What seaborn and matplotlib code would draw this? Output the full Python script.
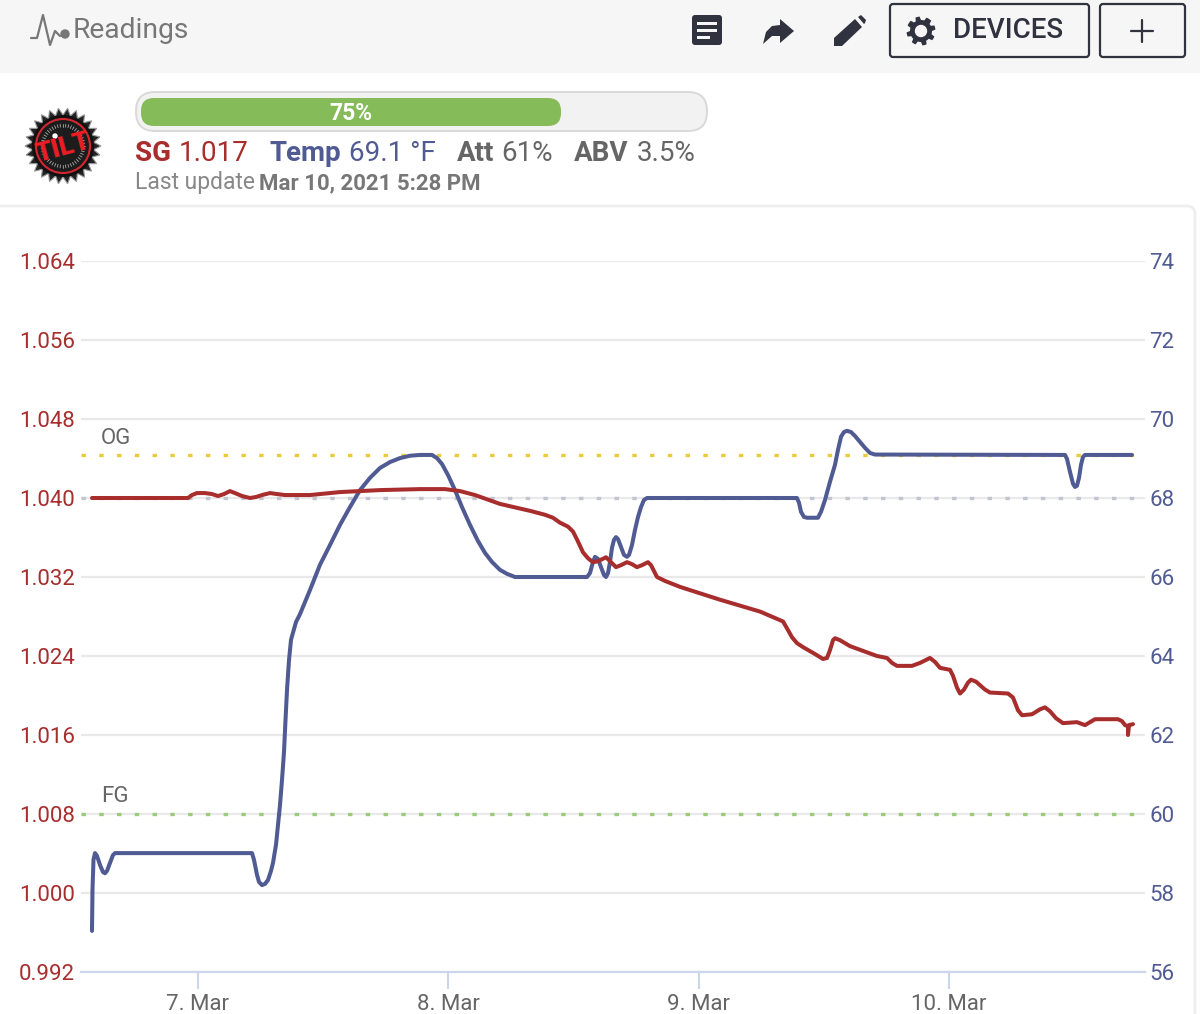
import numpy as np
import pandas as pd
import matplotlib.pyplot as plt
import seaborn as sns
from matplotlib.patches import Circle, FancyBboxPatch, Polygon, Rectangle

# readings, x is day of March
temp_days = [6.5765, 6.5785, 6.5825, 6.5885, 6.5965, 6.6085, 6.6205, 6.6285, 6.6365, 6.6484, 6.6604, 6.6684,
             7.2157, 7.2237, 7.2357, 7.2437, 7.2557, 7.2677, 7.2797, 7.2916, 7.2996, 7.3116, 7.3196, 7.3276,
             7.3356, 7.3436, 7.3496, 7.3556, 7.3636, 7.3716, 7.3755, 7.3915, 7.4075, 7.4474, 7.4874, 7.5273,
             7.5673, 7.6072, 7.6472, 7.6871, 7.7271, 7.7670, 7.8070, 7.8469, 7.8869, 7.9348, 7.9548, 7.9748,
             7.9988, 8.0267, 8.0547, 8.0866, 8.1186, 8.1466, 8.1746, 8.2065, 8.2345, 8.2664,
             8.5541, 8.5660, 8.5780, 8.5860, 8.5980, 8.6100, 8.6220, 8.6300, 8.6380, 8.6459, 8.6539, 8.6619,
             8.6699, 8.6779, 8.6899, 8.7019, 8.7139, 8.7219, 8.7338, 8.7458, 8.7578, 8.7698, 8.7818, 8.7938,
             9.3930, 9.4010, 9.4090, 9.4210, 9.4330, 9.4769, 9.4889, 9.5049, 9.5248, 9.5448, 9.5568, 9.5688,
             9.5808, 9.5928, 9.6087, 9.6247, 9.6447, 9.6647, 9.6847, 9.7046,
             10.4637, 10.4717, 10.4837, 10.4957, 10.5036, 10.5116, 10.5196, 10.5276, 10.5356, 10.5436, 10.7313]
temp_values = [57.04, 58.08, 58.84, 59.01, 58.94, 58.71, 58.53, 58.5, 58.56, 58.76, 58.96, 59.01,
               59.01, 58.84, 58.46, 58.28, 58.2, 58.23, 58.33, 58.56, 58.76, 59.22, 59.72, 60.23,
               60.86, 61.57, 62.38, 63.14, 63.90, 64.41, 64.5, 64.86, 65.06, 65.67, 66.31, 66.81,
               67.32, 67.77, 68.20, 68.51, 68.76, 68.91, 69.01, 69.07, 69.09, 69.09, 69.01, 68.86,
               68.58, 68.20, 67.77, 67.32, 66.91, 66.61, 66.38, 66.18, 66.08, 66.0,
               66.0, 66.10, 66.38, 66.51, 66.46, 66.25, 66.05, 66.0, 66.10, 66.38, 66.74, 66.94,
               67.01, 66.96, 66.76, 66.56, 66.51, 66.56, 66.81, 67.19, 67.52, 67.77, 67.95, 68.0,
               68.0, 67.88, 67.65, 67.52, 67.5, 67.5, 67.65, 67.95, 68.41, 68.84, 69.22, 69.55,
               69.67, 69.70, 69.67, 69.57, 69.42, 69.27, 69.14, 69.1,
               69.09, 68.99, 68.66, 68.36, 68.28, 68.31, 68.51, 68.84, 69.04, 69.09, 69.09]

sg_days = [6.5765, 6.9600, 6.9760, 6.9960, 7.0280, 7.0559, 7.0799, 7.1039, 7.1278, 7.1478,
           7.1758, 7.2077, 7.2317, 7.2557, 7.2876, 7.3156, 7.3476, 7.4474, 7.5673, 7.7271,
           7.8869, 7.9868, 8.0467, 8.1066, 8.2065, 8.3263, 8.3863, 8.4182, 8.4462, 8.4782,
           8.4981, 8.5141, 8.5381, 8.5581, 8.5780, 8.5980, 8.6300, 8.6459, 8.6699, 8.6899,
           8.7139, 8.7338, 8.7538, 8.7738, 8.7978, 8.8097, 8.8217, 8.8337, 8.8657, 8.9256,
           9.0854, 9.2452, 9.3371, 9.3531, 9.3730, 9.3930, 9.4170, 9.4649, 9.4969, 9.5129,
           9.5248, 9.5369, 9.5448, 9.5648, 9.6047, 9.7126, 9.7526, 9.7725, 9.7925, 9.8524,
           9.8844, 9.9243, 9.9443, 9.9643, 10.0042, 10.0162, 10.0322, 10.0442, 10.0602, 10.0761,
           10.0881, 10.1081, 10.1441, 10.1640, 10.2360, 10.2559, 10.2759, 10.2919, 10.3318, 10.3638,
           10.3838, 10.4037, 10.4277, 10.4557, 10.5116, 10.5436, 10.5635, 10.5835, 10.6754, 10.6914,
           10.7034, 10.7154, 10.7154, 10.7194, 10.7354]
sg_values = [1.0400, 1.0400, 1.0403, 1.0405, 1.0405, 1.0404, 1.0402, 1.0404, 1.0407, 1.0405,
             1.0402, 1.0400, 1.0401, 1.0403, 1.0405, 1.0404, 1.0403, 1.0403, 1.0406, 1.0408,
             1.0409, 1.0409, 1.0407, 1.0403, 1.0394, 1.0387, 1.0383, 1.0380, 1.0375, 1.0371,
             1.0366, 1.0358, 1.0345, 1.0339, 1.0335, 1.0336, 1.0340, 1.0336, 1.0330, 1.0332,
             1.0335, 1.0333, 1.0330, 1.0332, 1.0335, 1.0332, 1.0326, 1.0320, 1.0316, 1.0310,
             1.0297, 1.0285, 1.0275, 1.0268, 1.0259, 1.0253, 1.0249, 1.0242, 1.0237, 1.0238,
             1.0246, 1.0256, 1.0258, 1.0256, 1.0250, 1.0240, 1.0238, 1.0233, 1.0230, 1.0230,
             1.0233, 1.0238, 1.0234, 1.0228, 1.0226, 1.0220, 1.0208, 1.0202, 1.0206, 1.0213,
             1.0216, 1.0214, 1.0206, 1.0203, 1.0202, 1.0198, 1.0185, 1.0180, 1.0181, 1.0186,
             1.0188, 1.0184, 1.0177, 1.0172, 1.0173, 1.0170, 1.0173, 1.0176, 1.0176, 1.0174,
             1.0170, 1.0169, 1.0160, 1.0170, 1.0171]

og_value = 1.0444
fg_value = 1.008
target_temp = 68

temp_ticks = [56, 58, 60, 62, 64, 66, 68, 70, 72, 74]
sg_ticks = [0.992, 1.000, 1.008, 1.016, 1.024, 1.032, 1.040, 1.048, 1.056, 1.064]
day_ticks = [7, 8, 9, 10]
day_labels = ['7. Mar', '8. Mar', '9. Mar', '10. Mar']

RED = '#a82d2d'
BLUE = '#505b93'
GREY = '#666666'
DARK = '#30323f'
HEADER = '#f6f6f6'

sns.set_theme(style='white')
plt.rcParams['font.family'] = ['Roboto', 'DejaVu Sans']


def sg_to_temp(sg):
    # both axes share the same gridlines
    return 56 + (sg - 0.992) * 250


fig = plt.figure(figsize=(12, 10.14), dpi=100, facecolor='white')

# page furniture, in pixel coordinates
page = fig.add_axes([0, 0, 1, 1], zorder=0)
page.set_xlim(0, 1200)
page.set_ylim(1014, 0)
page.axis('off')

page.add_patch(Rectangle((0, 0), 1200, 73, color=HEADER, lw=0))
page.add_patch(FancyBboxPatch((-10, 206), 1205, 830, boxstyle='round,pad=0,rounding_size=8',
                              fc='white', ec='#eeeeee', lw=2))

# readings logo and title
page.plot([31, 37, 43, 50, 55, 60], [38, 38, 15, 45, 31, 36], color='#777777', lw=1.6)
page.add_patch(Circle((65, 34), 4, color='#777777'))
page.text(73, 30.5, 'Readings', fontsize=20.3, color='#777777', va='center')

# toolbar icons
page.add_patch(FancyBboxPatch((692, 15), 30, 30, boxstyle='round,pad=0,rounding_size=3', fc=DARK, ec='none'))
for y, w in [(23, 20), (30, 20), (37, 13)]:
    page.add_patch(Rectangle((697, y - 1.5), w, 3, color=HEADER, lw=0))
page.add_patch(Polygon([(780, 19), (794, 31), (780, 43), (780, 36), (772, 36), (763, 44),
                        (766, 32), (772, 26), (780, 25)], fc=DARK, ec='none'))
page.add_patch(Polygon([(834, 46), (834, 38), (855, 19), (862, 27), (842, 46)], fc=DARK, ec='none'))
page.add_patch(Polygon([(858, 17), (861, 15), (866, 20), (865, 23), (864, 24)], fc=DARK, ec='none'))

page.add_patch(FancyBboxPatch((890, 4), 199, 53, boxstyle='round,pad=0,rounding_size=3',
                              fc=HEADER, ec=DARK, lw=1.6))
page.add_patch(FancyBboxPatch((1100, 4), 85, 53, boxstyle='round,pad=0,rounding_size=3',
                              fc=HEADER, ec=DARK, lw=1.6))
gear_angles = np.linspace(0, 2 * np.pi, 64, endpoint=False)
gear_radius = np.where(((gear_angles + np.pi / 8) % (np.pi / 4)) < np.pi / 8, 14.5, 11)
page.add_patch(Polygon(np.c_[921 + gear_radius * np.cos(gear_angles), 31 + gear_radius * np.sin(gear_angles)],
                       fc=DARK, ec='none'))
page.add_patch(Circle((921, 31), 5.5, color=HEADER))
page.text(1008, 31, 'DEVICES', fontsize=20, color=DARK, ha='center', va='center', fontweight='medium')
page.plot([1131, 1153], [31, 31], color=DARK, lw=1.6)
page.plot([1142, 1142], [20, 42], color=DARK, lw=1.6)

# tilt bottle cap
cap_angles = np.linspace(0, 2 * np.pi, 52, endpoint=False)
cap_radius = np.where(np.arange(52) % 2 == 0, 38, 31)
page.add_patch(Polygon(np.c_[63 + cap_radius * np.cos(cap_angles), 146 + cap_radius * np.sin(cap_angles)],
                       fc='#222222', ec='#999999', lw=0.8))
page.add_patch(Circle((63, 146), 31, fc='#111111', ec='none'))
page.add_patch(Circle((63, 146), 27, fc='#1c1c1c', ec='#d22630', lw=1.5))
tick_angles = np.linspace(0, 2 * np.pi, 48, endpoint=False)
for a in tick_angles:
    page.plot([63 + 19 * np.cos(a), 63 + 22 * np.cos(a)], [146 + 19 * np.sin(a), 146 + 22 * np.sin(a)],
              color='#aaaaaa', lw=0.6)
page.add_patch(Circle((55, 136), 2, color='white'))
page.text(63, 148, 'TILT', fontsize=19, fontweight='black', color='#ee1c25', ha='center', va='center', rotation=15)

# progress bar
page.add_patch(FancyBboxPatch((136, 92), 571, 39, boxstyle='round,pad=0,rounding_size=19',
                              fc='#f2f2f2', ec='#d9d9d9', lw=1.4))
page.add_patch(FancyBboxPatch((141, 98), 420, 28, boxstyle='round,pad=0,rounding_size=13',
                              fc='#85bb58', ec='none'))
page.text(351, 114, '75%', fontsize=16.5, fontweight='bold', color='white', ha='center', va='center')

# current reading
status_parts = [(135, 'SG', RED, 'bold'), (179, '1.017', RED, 'normal'),
                (270, 'Temp', BLUE, 'bold'), (349, '69.1 °F', BLUE, 'normal'),
                (457, 'Att', GREY, 'bold'), (501, '61%', GREY, 'normal'),
                (574, 'ABV', GREY, 'bold'), (637, '3.5%', GREY, 'normal')]
for x, label, colour, weight in status_parts:
    page.text(x, 153.5, label, fontsize=20, color=colour, fontweight=weight, va='center')
page.text(135, 183, 'Last update', fontsize=16.5, color='#888888', va='center')
page.text(259, 183, 'Mar 10, 2021 5:28 PM', fontsize=16, color='#777777', fontweight='bold', va='center')

# chart, temperature axis below so the gravity line stays on top
ax_temp = fig.add_axes([81 / 1200, 1 - 972 / 1014, 1064 / 1200, 711 / 1014], zorder=1)
ax_temp.patch.set_visible(False)
ax_sg = ax_temp.twinx()
ax_sg.patch.set_visible(False)

ax_temp.grid(axis='y', color='#e9e9ec', lw=1.6)
ax_temp.set_axisbelow(True)

dots = (0, (1.33, 4))
ax_temp.axhline(sg_to_temp(og_value), color='#eccb3b', lw=2.4, ls=dots)
ax_temp.axhline(target_temp, color='#c2c4d0', lw=2.4, ls=dots)
ax_temp.axhline(sg_to_temp(fg_value), color='#9ccb7c', lw=2.4, ls=dots)

temp_df = pd.DataFrame({'day': temp_days, 'temp': temp_values})
sg_df = pd.DataFrame({'day': sg_days, 'sg': sg_values})
sns.lineplot(data=temp_df, x='day', y='temp', color=BLUE, linewidth=2.9, sort=False, estimator=None,
             errorbar=None, legend=False, ax=ax_temp)
sns.lineplot(data=sg_df, x='day', y='sg', color=RED, linewidth=2.9, sort=False, estimator=None,
             errorbar=None, legend=False, ax=ax_sg)

ax_temp.set_xlim(6.5326, 10.7833)
ax_temp.set_ylim(56, 74)
ax_sg.set_ylim(0.992, 1.064)
ax_temp.set_xlabel('')
ax_temp.set_ylabel('')
ax_sg.set_ylabel('')

ax_temp.set_xticks(day_ticks)
ax_temp.set_xticklabels(day_labels, fontsize=16, color=GREY)
ax_temp.tick_params(axis='x', length=12.5, width=1.5, color='#ccd6eb', pad=3, bottom=True)

ax_temp.set_yticks(temp_ticks)
ax_temp.set_yticklabels([str(t) for t in temp_ticks], fontsize=16, color=BLUE)
ax_temp.yaxis.tick_right()
ax_temp.tick_params(axis='y', length=0, pad=3)

ax_sg.set_yticks(sg_ticks)
ax_sg.set_yticklabels([f'{s:.3f}' for s in sg_ticks], fontsize=16, color=RED)
ax_sg.yaxis.tick_left()
ax_sg.tick_params(axis='y', length=0, pad=4.5)

for ax in (ax_temp, ax_sg):
    for side in ('top', 'left', 'right', 'bottom'):
        ax.spines[side].set_visible(False)
ax_temp.spines['bottom'].set_visible(True)
ax_temp.spines['bottom'].set_color('#ccd6eb')
ax_temp.spines['bottom'].set_linewidth(1.6)

page.text(101, 439, 'OG', fontsize=16, color=GREY, va='center')
page.text(101, 797, 'FG', fontsize=16, color=GREY, va='center')

fig.savefig('out.png', dpi=100)
